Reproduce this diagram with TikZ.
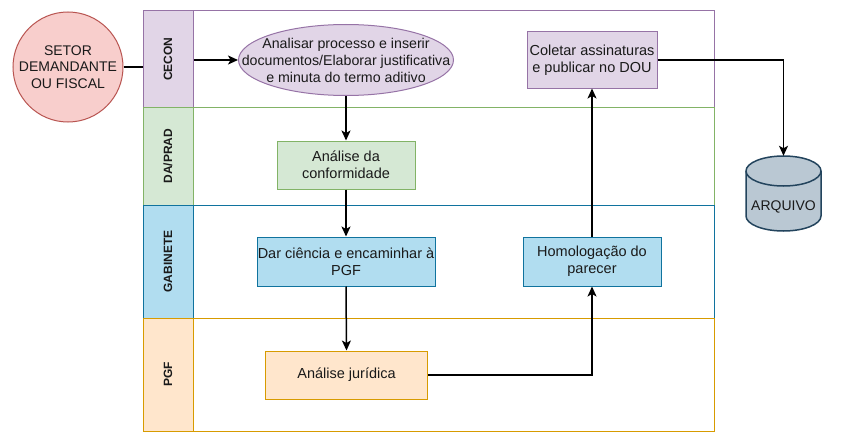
\documentclass[tikz,border=0pt]{standalone}
\usepackage{fontspec}
\setmainfont{Liberation Sans}
\usetikzlibrary{shapes.geometric,arrows.meta}
\definecolor{purF}{HTML}{E1D5E7}\definecolor{purD}{HTML}{9673A6}
\definecolor{grnF}{HTML}{D5E8D4}\definecolor{grnD}{HTML}{82B366}
\definecolor{bluF}{HTML}{B1DDF0}\definecolor{bluD}{HTML}{10739E}
\definecolor{orF}{HTML}{FFE6CC}\definecolor{orD}{HTML}{D79B00}
\definecolor{redF}{HTML}{F8CECC}\definecolor{redD}{HTML}{B85450}
\definecolor{cylF}{HTML}{BAC8D3}\definecolor{cylD}{HTML}{23445D}
\definecolor{txt}{HTML}{1A1A1A}
\begin{document}
\begin{tikzpicture}[x=1pt,y=-1pt,
  lanebody/.style={draw=#1, line width=1pt},
  lanehead/.style={draw=#1, line width=1pt},
  hdr/.style={rotate=90, font=\fontsize{12}{14}\selectfont\bfseries, text=txt, inner sep=0pt},
  proc/.style={draw=#1, line width=1pt, align=center, inner sep=0pt, text=txt,
     font=\fontsize{14.5}{17}\selectfont},
  lbl/.style={align=center, inner sep=0pt, text=txt, font=\fontsize{14.2}{17}\selectfont},
  conn/.style={line width=1.5pt, black},
  arr/.style={conn, -{Stealth[length=10pt,width=9pt,inset=2.5pt]}}
]
\useasboundingbox (0,0) rectangle (864,436);
% lane bodies
\draw[lanebody=purD] (143,11) rectangle (714,107);
\draw[lanebody=grnD] (143,107) rectangle (714,205);
\draw[lanebody=bluD] (143,205) rectangle (714,318);
\draw[lanebody=orD] (143,318) rectangle (714,431);

% source circle and ellipse
\node[circle, draw=redD, fill=redF, line width=1pt, minimum size=110pt, inner sep=0pt,
      align=center, text=txt, font=\fontsize{14}{16.5}\selectfont] (src) at (68,67)
      {SETOR\\DEMANDANTE\\OU FISCAL};
\node[draw=purD, fill=purF, line width=1pt, ellipse, inner sep=0pt,
      minimum width=215pt, minimum height=71pt] (ell) at (346,60) {};
\node[lbl] (ellt) at (ell.center)
      {Analisar processo e inserir\\documentos/Elaborar justificativa\\e minuta do termo aditivo};
\draw[conn] (src.east) -- (170,67) -- (170,60);
\draw[arr] (170,60) -- (ell.west);

% lane headers
\draw[lanehead=purD, fill=purF] (143,11) rectangle (193,107);
\draw[lanehead=grnD, fill=grnF] (143,107) rectangle (193,205);
\draw[lanehead=bluD, fill=bluF] (143,205) rectangle (193,318);
\draw[lanehead=orD, fill=orF] (143,318) rectangle (193,431);
\node[hdr] (hC) at (168,59) {CECON};
\node[hdr] (hD) at (168,156) {DA/PRAD};
\node[hdr] (hG) at (168,261.5) {GABINETE};
\node[hdr] (hP) at (168,374.5) {PGF};

% process boxes
\node[proc=purD, fill=purF, minimum width=130pt, minimum height=56pt] (col) at (592,60)
      {Coletar assinaturas\\e publicar no DOU};
\node[proc=grnD, fill=grnF, minimum width=138pt, minimum height=48pt] (conf) at (346,165)
      {Análise da\\conformidade};
\node[proc=bluD, fill=bluF, minimum width=178pt, minimum height=49pt] (dar) at (346,261.5)
      {Dar ciência e encaminhar à\\PGF};
\node[proc=bluD, fill=bluF, minimum width=138pt, minimum height=49pt] (hom) at (592,261.5)
      {Homologação do\\parecer};
\node[proc=orD, fill=orF, minimum width=162pt, minimum height=48pt] (jur) at (346.5,375)
      {Análise jurídica};

% cylinder
\filldraw[draw=cylD, fill=cylF, line width=1.5pt]
  (746,171) -- (746,216) arc[start angle=180, end angle=0, x radius=37.5, y radius=15]
  -- (821,171) arc[start angle=0, end angle=-180, x radius=37.5, y radius=15] -- cycle;
\draw[draw=cylD, line width=1.5pt] (746,171) arc[start angle=180, end angle=0, x radius=37.5, y radius=15];
\node[minimum width=75pt, minimum height=75pt, inner sep=0pt] (arq) at (783.5,193.5) {};
\node[text=txt, font=\fontsize{14}{16.5}\selectfont, inner sep=0pt] (arqt) at (783.5,207) {ARQUIVO};

% connectors
\draw[arr] (ell.south) -- (conf.north);
\draw[arr] (conf.south) -- (dar.north);
\draw[arr] (dar.south) -- (jur.north);
\draw[arr] (jur.east) -| (hom.south);
\draw[arr] (hom.north) -- (col.south);
\draw[arr] (col.east) -| (arq.north);
\end{tikzpicture}
\end{document}
